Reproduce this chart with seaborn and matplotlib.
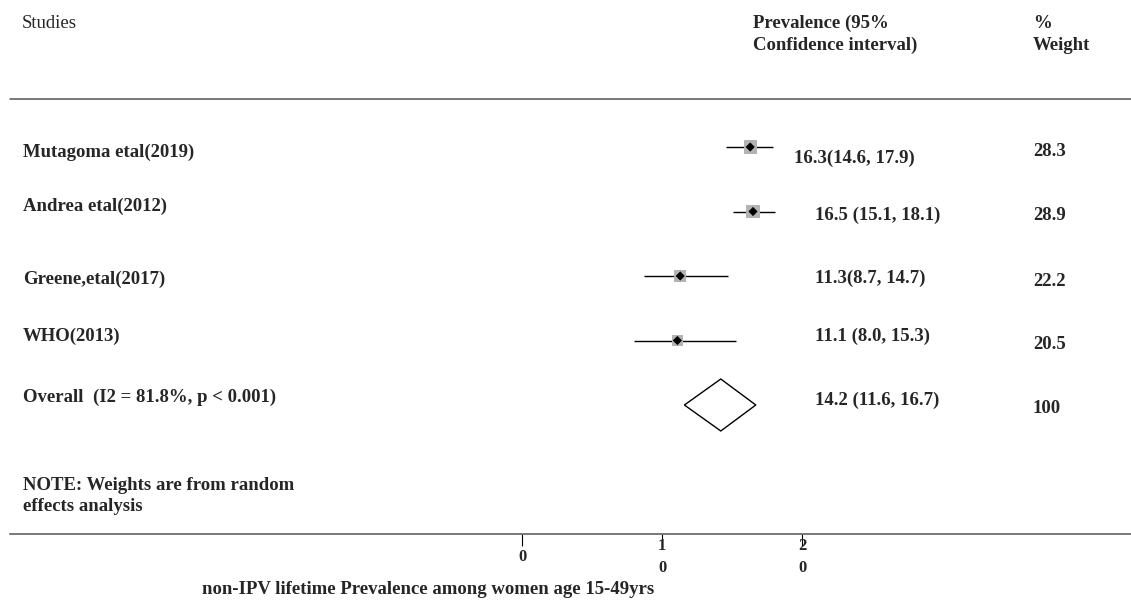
import numpy as np
import pandas as pd
import matplotlib
matplotlib.use("Agg")
import matplotlib.pyplot as plt
import seaborn as sns

# ---------------- data ----------------
studies = ["Mutagoma etal(2019)", "Andrea etal(2012)", "Greene,etal(2017)", "WHO(2013)"]
estimates = [16.3, 16.5, 11.3, 11.1]
ci_low = [14.6, 15.1, 8.7, 8.0]
ci_high = [17.9, 18.1, 14.7, 15.3]
weights = [28.3, 28.9, 22.2, 20.5]
value_labels = ["16.3(14.6, 17.9)", "16.5 (15.1, 18.1)", "11.3(8.7, 14.7)", "11.1 (8.0, 15.3)"]
weight_labels = ["28.3", "28.9", "22.2", "20.5"]

overall_label = "Overall  (I2 = 81.8%, p < 0.001)"
overall_est = 14.2
overall_low = 11.6
overall_high = 16.7
overall_value_label = "14.2 (11.6, 16.7)"
overall_weight_label = "100"

x_ticks = [0, 10, 20]
x_tick_labels = ["0", "1\n0", "2\n0"]
x_label = "non-IPV lifetime Prevalence among women age 15-49yrs"
note_lines = ["NOTE: Weights are from random", "effects analysis"]
header_studies = "Studies"
header_ci = ["Prevalence (95%", "Confidence interval)"]
header_weight = ["%", "Weight"]

# ---------------- layout (pixels) ----------------
W, H = 1131, 601
X0_PX, PX_PER_UNIT = 522.0, 14.0       # x scale
ROW0_PX, ROW_STEP_PX = 147.0, 64.5      # y scale (row index)
label_caps = [151, 205, 278, 335, 396]
value_caps = [157, 214, 277, 335, 399]
weight_caps = [150, 214, 280, 343, 407]
value_x = [794, 815, 815, 815, 815]
FS = 13.5

sns.set_theme(style="white")
plt.rcParams["font.family"] = ["Liberation Serif", "DejaVu Serif"]

fig = plt.figure(figsize=(W / 100, H / 100), dpi=100)
ax = fig.add_axes([0, 0, 1, 1])
ax.set_xlim(-X0_PX / PX_PER_UNIT, (W - X0_PX) / PX_PER_UNIT)
ax.set_ylim((H - ROW0_PX) / ROW_STEP_PX, -ROW0_PX / ROW_STEP_PX)


def py(px):  # pixel y -> row units
    return (px - ROW0_PX) / ROW_STEP_PX


def fx(px):
    return px / W


def fy(px):
    return 1 - px / H


df = pd.DataFrame({"study": studies, "est": estimates, "lo": ci_low,
                   "hi": ci_high, "w": weights, "row": np.arange(len(studies))})

# confidence intervals
ax.hlines(df["row"], df["lo"], df["hi"], color="black", lw=1.0, zorder=2)
# weight squares
sns.scatterplot(data=df, x="est", y="row", marker="s", s=df["w"] * 3.1,
                color="#b3b3b3", edgecolor="none", linewidth=0, ax=ax,
                legend=False, zorder=3)
# point estimates
sns.scatterplot(data=df, x="est", y="row", marker="D", s=22,
                color="black", edgecolor="none", linewidth=0, ax=ax,
                legend=False, zorder=4)

# overall diamond
r = len(studies)
ax.fill([overall_low, overall_est, overall_high, overall_est],
        [r, r - 0.403, r, r + 0.403], facecolor="white", edgecolor="black",
        lw=1.0, zorder=3)

# ---------------- texts ----------------
fig.text(fx(22), fy(28), header_studies, fontsize=FS, va="baseline", ha="left")
t2 = fig.text(fx(917), fy(50), header_ci[1], fontsize=FS, weight="bold",
              va="baseline", ha="right")
renderer = fig.canvas.get_renderer()
left_px = t2.get_window_extent(renderer).x0
fig.text(left_px / W, fy(28), header_ci[0], fontsize=FS, weight="bold", va="baseline")
fig.text(fx(1033), fy(28), header_weight[0], fontsize=FS, weight="bold", va="baseline")
fig.text(fx(1033), fy(50), header_weight[1], fontsize=FS, weight="bold", va="baseline")

all_labels = studies + [overall_label]
all_values = value_labels + [overall_value_label]
all_weights = weight_labels + [overall_weight_label]
for i in range(len(all_labels)):
    fig.text(fx(23), fy(label_caps[i] + 6), all_labels[i], fontsize=FS,
             weight="bold", va="baseline")
    fig.text(fx(value_x[i]), fy(value_caps[i] + 6), all_values[i], fontsize=FS,
             weight="bold", va="baseline")
    fig.text(fx(1033), fy(weight_caps[i] + 6), all_weights[i], fontsize=FS,
             weight="bold", va="baseline")

fig.text(fx(23), fy(490), note_lines[0], fontsize=FS, weight="bold", va="baseline")
fig.text(fx(23), fy(511), note_lines[1], fontsize=FS, weight="bold", va="baseline")

# header rule
ax.axhline(py(99), xmin=10 / W, xmax=1.0, color="#555555", lw=1.1)

# bottom axis
for s in ["left", "right", "top"]:
    ax.spines[s].set_visible(False)
ax.spines["bottom"].set_position(("data", py(534)))
ax.spines["bottom"].set_bounds((10 - X0_PX) / PX_PER_UNIT, (W - X0_PX) / PX_PER_UNIT)
ax.spines["bottom"].set_color("#555555")
ax.spines["bottom"].set_linewidth(1.1)
ax.set_yticks([])
ax.set_xticks(x_ticks, x_tick_labels, fontsize=12, fontweight="bold",
              va="center", linespacing=1.45)
ax.tick_params(axis="x", bottom=True, length=8.5, width=0.8, color="black", pad=8)
ax.set_xlabel("")
ax.set_ylabel("")
ax.grid(False)
fig.text(fx(428), fy(594), x_label, fontsize=FS, weight="bold", va="baseline",
         ha="center")

fig.savefig("out.png", dpi=100, facecolor="white")
